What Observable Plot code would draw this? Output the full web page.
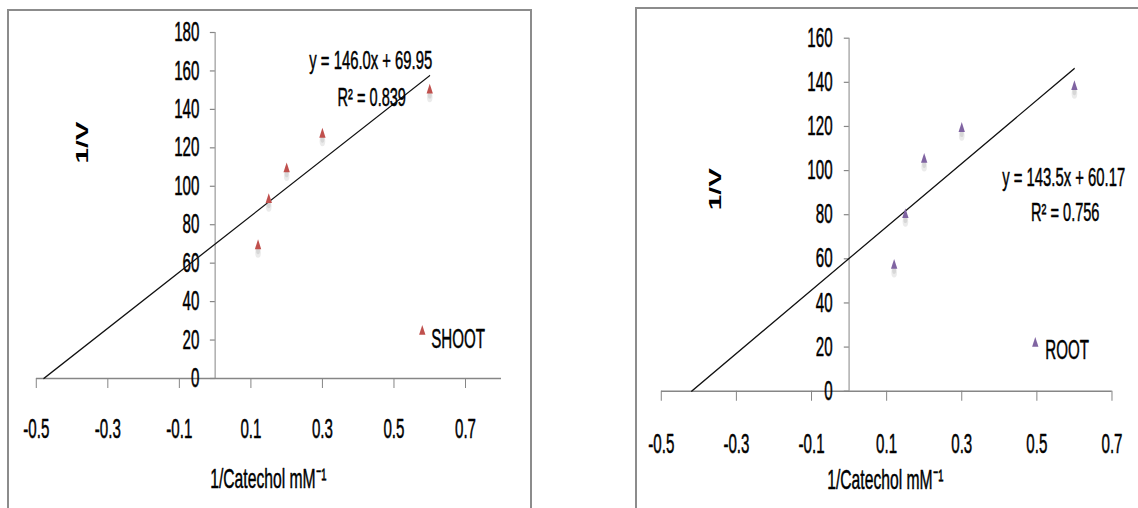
<!DOCTYPE html>
<html>
<head>
<meta charset="utf-8">
<script src="https://cdn.jsdelivr.net/npm/d3@7"></script>
<script src="https://cdn.jsdelivr.net/npm/@observablehq/plot@0.6"></script>
<style>
  html, body { margin: 0; padding: 0; background: #fff; overflow: hidden; }
  #root { position: relative; width: 1138px; height: 508px; overflow: hidden; background: #fff; }
  .panel { position: absolute; top: 0; height: 508px; overflow: hidden; }
  .border { position: absolute; border: 2px solid #8c8c8c; box-sizing: border-box; pointer-events: none; }
</style>
</head>
<body>
<div id="root"></div>
<script>
// ---- data ----
const concentrations = [0.12, 0.15, 0.2, 0.3, 0.6];   // 1/Catechol (mM^-1)
const shootValues = [69, 93, 109, 127, 150];          // 1/V, SHOOT
const rootValues = [57, 80, 105, 119, 138];           // 1/V, ROOT
const seriesNames = ["SHOOT", "ROOT"];
const seriesColors = ["#C0504D", "#8064A2"];
const fitSlopes = [146.0, 143.5];
const fitIntercepts = [69.95, 60.17];
const fitR2 = ["0.839", "0.756"];
const xTicks = [-0.5, -0.3, -0.1, 0.1, 0.3, 0.5, 0.7];
const shootYTicks = [0, 20, 40, 60, 80, 100, 120, 140, 160, 180];
const rootYTicks = [0, 20, 40, 60, 80, 100, 120, 140, 160];
const yLabel = "1/V";
const xLabel = "1/Catechol mM\u207B\u00B9";

// ---- layout ----
const S = 0.56; // horizontal squeeze of the reference picture
const FONT = "'Liberation Sans', Arial, sans-serif";
const root = document.getElementById("root");

function panel(cfg) {
  const pts = concentrations.map((x, i) => ({x, y: cfg.values[i]}));
  const x0 = -cfg.intercept / cfg.slope;
  const x1 = d3.max(concentrations);
  const trend = [x0, x1].map(x => ({x, y: cfg.slope * x + cfg.intercept}));
  const eq = `y = ${cfg.slope.toFixed(1)}x + ${cfg.intercept.toFixed(2)}`;
  const r2 = `R\u00B2 = ${cfg.r2}`;
  const gray = "#868686";
  const fs = 27;
  const ts = {stroke: "black", strokeWidth: 0.5, fill: "black"};
  const h = v => v / S; // final px -> native px (horizontal)

  const svg = Plot.plot({
    width: h(cfg.width),
    height: 508,
    marginLeft: h(cfg.mL),
    marginRight: h(cfg.mR),
    marginTop: cfg.mT,
    marginBottom: cfg.mB,
    x: {domain: cfg.xDomain, label: null},
    y: {domain: cfg.yDomain, axis: null, label: null},
    style: {fontFamily: FONT, background: "transparent", maxWidth: "none", color: "black"},
    marks: [
      Plot.ruleY([0], {stroke: gray, strokeWidth: 1.6}),
      Plot.ruleX([0], {stroke: gray, strokeWidth: 1.8}),
      Plot.axisX(xTicks, {anchor: "bottom", tickSize: 10, tickPadding: cfg.xPad, stroke: gray, strokeWidth: 1.8,
        fill: "black", textStroke: "black", textStrokeWidth: 0.5, fontSize: fs, tickFormat: d => String(d), label: null}),
      Plot.ruleY(cfg.yTicks, {y: d => d, x1: 0, x2: 0, insetLeft: -h(5), stroke: gray, strokeWidth: 1.2}),
      Plot.text(cfg.yTicks, {x: () => 0, y: d => d, text: d => String(d), textAnchor: "end", dx: h(cfg.yLabDx), fontSize: fs, ...ts}),
      Plot.line(trend, {x: "x", y: "y", stroke: "#111", strokeWidth: 1.5}),
      Plot.dot(pts, {x: "x", y: "y", r: 5, fill: "#9a9a9a", fillOpacity: 0.2, dy: 7, symbol: "circle"}),
      Plot.dot(pts, {x: "x", y: "y", r: 3.4, fill: "#9a9a9a", fillOpacity: 0.25, dy: 5, symbol: "circle"}),
      Plot.dot(pts, {x: "x", y: "y", r: 4.2, fill: cfg.color, symbol: "triangle"}),
      Plot.text([eq], {frameAnchor: "top-left", dx: h(cfg.eq[0]), dy: cfg.eq[1], text: d => d, textAnchor: cfg.eqAnchor, fontSize: 26.5, ...ts}),
      Plot.text([r2], {frameAnchor: "top-left", dx: h(cfg.r2p[0]), dy: cfg.r2p[1], text: d => d, textAnchor: "middle", fontSize: 26, ...ts}),
      Plot.dot([cfg.name], {frameAnchor: "top-left", dx: h(cfg.legDot[0]), dy: cfg.legDot[1], r: 4.2, fill: cfg.color, symbol: "triangle"}),
      Plot.text([cfg.name], {frameAnchor: "top-left", dx: h(cfg.legText[0]), dy: cfg.legText[1], text: d => d, textAnchor: "start", fontSize: 27, ...ts}),
      Plot.text([yLabel], {frameAnchor: "top-left", dx: h(cfg.yl[0]), dy: cfg.yl[1], text: d => d, rotate: -90, fontWeight: "bold", fontSize: 28, fill: "black"}),
      Plot.text([xLabel], {frameAnchor: "bottom-left", dx: h(cfg.xl[0]), dy: cfg.xl[1], text: d => d, textAnchor: "middle", fontSize: 28, ...ts})
    ]
  });
  svg.style.transform = `scaleX(${S})`;
  svg.style.transformOrigin = "0 0";
  const div = document.createElement("div");
  div.className = "panel";
  div.style.left = cfg.left + "px";
  div.style.width = cfg.width + "px";
  div.appendChild(svg);
  root.appendChild(div);
}

// left panel (SHOOT) -- offsets in final pixels from the plot frame's left edge
panel({
  values: shootValues, name: seriesNames[0], color: seriesColors[0],
  slope: fitSlopes[0], intercept: fitIntercepts[0], r2: fitR2[0],
  yTicks: shootYTicks, xDomain: [-0.5, 0.8], yDomain: [0, 180],
  left: 0, width: 531, mL: 36, mR: 30, mT: 32, mB: 130,
  xPad: 30, yLabDx: -15.75,
  eq: [334.5, 18], eqAnchor: "middle", r2p: [335.5, 55],
  legDot: [386, 299], legText: [395, 296],
  yl: [41, 131], xl: [232, 110]
});

// right panel (ROOT)
panel({
  values: rootValues, name: seriesNames[1], color: seriesColors[1],
  slope: fitSlopes[1], intercept: fitIntercepts[1], r2: fitR2[1],
  yTicks: rootYTicks, xDomain: [-0.5, 0.7], yDomain: [0, 160],
  left: 634, width: 504, mL: 27, mR: 26.3, mT: 37.7, mB: 117.3,
  xPad: 32.7, yLabDx: -16.5,
  eq: [341, 129.3], eqAnchor: "start", r2p: [404, 164.3],
  legDot: [374, 305.3], legText: [384, 302],
  yl: [49, 172], xl: [224, 97.3]
});

// panel borders
[[7, 9, 525], [635, 7, 520]].forEach(([l, t, w]) => {
  const b = document.createElement("div");
  b.className = "border";
  b.style.left = l + "px";
  b.style.top = t + "px";
  b.style.width = w + "px";
  b.style.height = "600px";
  root.appendChild(b);
});
</script>
</body>
</html>
